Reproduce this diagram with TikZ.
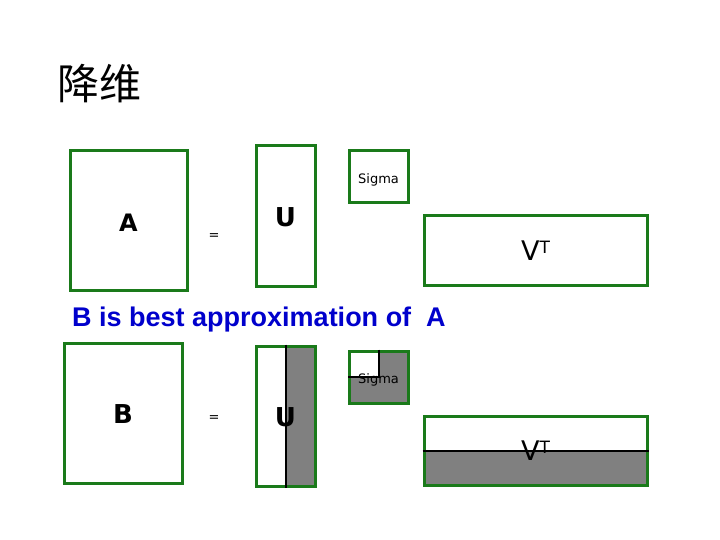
\documentclass[tikz,border=0pt]{standalone}
\usepackage{fontspec}
\setmainfont{DejaVu Sans}
\newfontfamily\cjk{Noto Sans CJK SC}
\newfontfamily\arialfont{Liberation Sans}
\usetikzlibrary{backgrounds}
\definecolor{boxgreen}{RGB}{26,122,26}
\definecolor{fillgray}{RGB}{128,128,128}
\definecolor{titleblue}{RGB}{0,0,204}
\newcommand{\lowerby}[2]{\raisebox{-#1}[\height][\depth]{#2}}
\begin{document}
\begin{tikzpicture}[x=1pt,y=-1pt,
  mat/.style={draw=boxgreen, line width=3pt, inner sep=0pt, anchor=center},
  big/.style={font=\fontsize{24}{24}\selectfont\bfseries},
  small/.style={font=\fontsize{13}{13}\selectfont},
  vt/.style={font=\fontsize{27}{27}\selectfont},
  cut/.style={black, line width=2pt}]
\useasboundingbox (0,0) rectangle (720,540);
% title
\node[anchor=west, inner sep=0pt, font=\fontsize{42}{42}\selectfont\cjk] (title) at (57,84) {降维};
% top row
\node[mat, big, minimum width=117pt, minimum height=139pt] (A) at (128.5,220.5) {\lowerby{2pt}{A}};
\node[small] (eq1) at (214,237) {=};
\node[mat, big, minimum width=59pt, minimum height=140pt] (U) at (285.5,216) {\fontsize{26}{26}\selectfont\lowerby{1pt}{U}};
\node[mat, small, minimum width=59pt, minimum height=52pt] (S) at (378.5,177) {\lowerby{2.5pt}{Sigma}};
\node[mat, vt, minimum width=223pt, minimum height=69pt] (V) at (535.5,250.5) {V\raisebox{7pt}{\fontsize{17}{17}\selectfont T}};
% caption
\node[anchor=base west, inner sep=0pt, text=titleblue, font=\fontsize{27}{27}\selectfont\arialfont\bfseries] (cap) at (72,326) {B is best approximation of\ \ A};
% bottom row
\node[mat, big, minimum width=118pt, minimum height=140pt] (B) at (123,413) {\fontsize{26}{26}\selectfont\lowerby{1pt}{B}};
\node[small] (eq2) at (214,419) {=};
\node[mat, big, minimum width=59pt, minimum height=140pt] (U2) at (285.5,416) {\fontsize{26}{26}\selectfont\lowerby{1.5pt}{U}};
\node[mat, small, minimum width=59pt, minimum height=52pt] (S2) at (378.5,377) {\lowerby{2.5pt}{Sigma}};
\node[mat, vt, minimum width=223pt, minimum height=69pt] (V2) at (535.5,450.5) {V\raisebox{7pt}{\fontsize{17}{17}\selectfont T}};
\coordinate (ucut) at (286,0);
\coordinate (scut) at (379,377);
\coordinate (vcut) at (0,451);
\begin{scope}[on background layer]
  \fill[fillgray] (U2.north -| ucut) rectangle (U2.south east);
  \fill[fillgray] (S2.north west) rectangle (S2.south east);
  \fill[white] (S2.north west) rectangle (scut);
  \fill[fillgray] (V2.west |- vcut) rectangle (V2.south east);
\end{scope}
\draw[cut] (U2.north -| ucut) -- (U2.south -| ucut);
\draw[cut] (S2.north -| scut) -- (scut) -- (S2.west |- scut);
\draw[cut] (V2.west |- vcut) -- (V2.east |- vcut);
\end{tikzpicture}
\end{document}
